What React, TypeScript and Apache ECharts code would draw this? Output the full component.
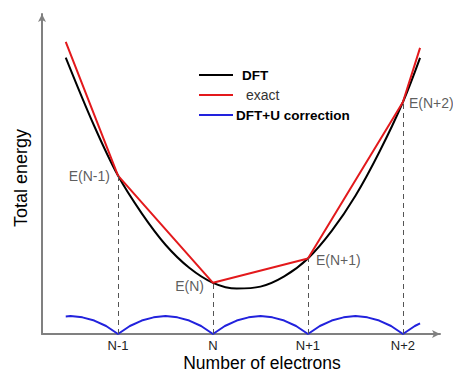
import React, { useEffect, useRef } from "react";
import * as echarts from "echarts";

// Number of electrons relative to N (N-1 = -1, N = 0, ...)
const tickValues = [-1, 0, 1, 2];
const tickLabels = ["N-1", "N", "N+1", "N+2"];
const xAxisTitle = "Number of electrons";
const yAxisTitle = "Total energy";

// DFT total energy (smooth convex curve)
const dftX = [-1.55, -1.25, -1, -0.75, -0.5, -0.25, 0, 0.25, 0.5, 0.75, 1, 1.25, 1.5, 1.75, 2, 2.18];
const dftY = [8.64, 6.5, 4.95, 3.77, 2.79, 2.07, 1.6, 1.42, 1.48, 1.8, 2.36, 3.22, 4.32, 5.68, 7.25, 8.63];

// exact (piecewise linear)
const exactX = [-1.55, -1, 0, 1, 2, 2.18];
const exactY = [9.13, 4.95, 1.6, 2.36, 7.25, 8.94];

// labelled points E(N-1) ... E(N+2)
const pointX = [-1, 0, 1, 2];
const pointY = [4.95, 1.6, 2.36, 7.25];
const pointLabels = ["E(N-1)", "E(N)", "E(N+1)", "E(N+2)"];

// DFT+U correction (arches between integers)
const corrX = [
  -1.55, -1.5, -1.375, -1.25, -1.125, -1,
  -0.875, -0.75, -0.625, -0.5, -0.375, -0.25, -0.125, 0,
  0.125, 0.25, 0.375, 0.5, 0.625, 0.75, 0.875, 1,
  1.125, 1.25, 1.375, 1.5, 1.625, 1.75, 1.875, 2,
  2.125, 2.18,
];
const corrY = [
  0.55, 0.56, 0.52, 0.42, 0.25, 0,
  0.25, 0.42, 0.52, 0.56, 0.52, 0.42, 0.25, 0,
  0.25, 0.42, 0.52, 0.56, 0.52, 0.42, 0.25, 0,
  0.25, 0.42, 0.52, 0.56, 0.52, 0.42, 0.25, 0,
  0.25, 0.33,
];

const FONT = "'Liberation Sans', Arial, sans-serif";

export default function App() {
  const ref = useRef<HTMLDivElement>(null);
  useEffect(() => {
    if (!ref.current) return;
    const chart = echarts.init(ref.current, null, { renderer: "svg" });
    const labelPos: any[] = [
      { position: "left", distance: 8, offset: [0, 0] },
      { position: "left", distance: 9, offset: [0, 3] },
      { position: "right", distance: 8, offset: [0, 2] },
      { position: "right", distance: 6, offset: [0, 1] },
    ];
    const option: any = {
      animation: false,
      backgroundColor: "#ffffff",
      textStyle: { fontFamily: FONT },
      grid: { left: 42, right: 13, top: 14, bottom: 38, containLabel: false, outerBoundsMode: "none" },
      graphic: [
        {
          type: "text",
          x: 262,
          y: 362.5,
          style: {
            text: xAxisTitle,
            fontSize: 17.5,
            fontFamily: FONT,
            fill: "#000",
            align: "center",
            verticalAlign: "middle",
          },
        },
      ],
      legend: {
        orient: "vertical",
        left: 194,
        top: 62,
        icon: "rect",
        itemWidth: 34,
        itemHeight: 2,
        itemGap: 4,
        textStyle: { fontFamily: FONT, fontSize: 13.5, fontWeight: "bold", color: "#000", lineHeight: 16 },
        data: [
          { name: "DFT", textStyle: { padding: [0, 0, 0, 4] } },
          { name: "exact", textStyle: { fontWeight: "normal", fontSize: 14, color: "#333", padding: [0, 0, 0, 8] } },
          { name: "DFT+U correction", textStyle: { padding: [0, 0, 0, -2] } },
        ],
      },
      xAxis: {
        type: "value",
        min: -1.8,
        max: 2.39,
        axisLine: {
          onZero: false,
          lineStyle: { color: "#808080", width: 2 },
          symbol: ["none", "arrow"],
          symbolSize: [6, 8],
        },
        axisTick: { show: false },
        splitLine: { show: false },
        axisLabel: {
          customValues: tickValues,
          margin: 4,
          fontSize: 13,
          lineHeight: 14,
          color: "#222",
          formatter: (v: number) => {
            const i = tickValues.indexOf(Math.round(v));
            return i >= 0 ? tickLabels[i] : "";
          },
        },
      },
      yAxis: {
        type: "value",
        min: 0,
        max: 10,
        name: yAxisTitle,
        nameLocation: "middle",
        nameGap: 12,
        nameTextStyle: { fontSize: 18, color: "#000", fontFamily: FONT, padding: [0, 8, 0, 0] },
        axisLine: {
          show: true,
          onZero: false,
          lineStyle: { color: "#808080", width: 2 },
          symbol: ["none", "arrow"],
          symbolSize: [6, 8],
        },
        axisTick: { show: false },
        axisLabel: { show: false },
        splitLine: { show: false },
      },
      series: [
        {
          name: "DFT",
          type: "line",
          smooth: 0.35,
          symbol: "none",
          lineStyle: { color: "#000", width: 2 },
          itemStyle: { color: "#000" },
          data: dftX.map((x, i) => [x, dftY[i]]),
          z: 2,
        },
        {
          name: "exact",
          type: "line",
          symbol: "none",
          lineStyle: { color: "#e3191c", width: 2 },
          itemStyle: { color: "#e3191c" },
          data: exactX.map((x, i) => [x, exactY[i]]),
          z: 3,
          markLine: {
            silent: true,
            symbol: ["none", "none"],
            label: { show: false },
            lineStyle: { type: [5, 4], color: "#555", width: 1 },
            data: pointX.map((x, i) => [{ coord: [x, 0] }, { coord: [x, pointY[i]] }]),
          },
        },
        {
          name: "DFT+U correction",
          type: "line",
          symbol: "none",
          lineStyle: { color: "#2222dd", width: 2 },
          itemStyle: { color: "#2222dd" },
          data: corrX.map((x, i) => [x, corrY[i]]),
          z: 3,
        },
        {
          name: "points",
          type: "scatter",
          symbolSize: 0,
          silent: true,
          data: pointX.map((x, i) => ({
            value: [x, pointY[i]],
            label: {
              show: true,
              formatter: pointLabels[i],
              fontSize: 14,
              color: "#333",
              fontFamily: FONT,
              ...labelPos[i],
            },
          })),
          z: 4,
        },
      ],
    };
    chart.setOption(option);
    return () => chart.dispose();
  }, []);
  return (
    <div
      ref={ref}
      style={{ position: "fixed", left: 0, top: 0, width: 453, height: 372, background: "#fff" }}
    />
  );
}
